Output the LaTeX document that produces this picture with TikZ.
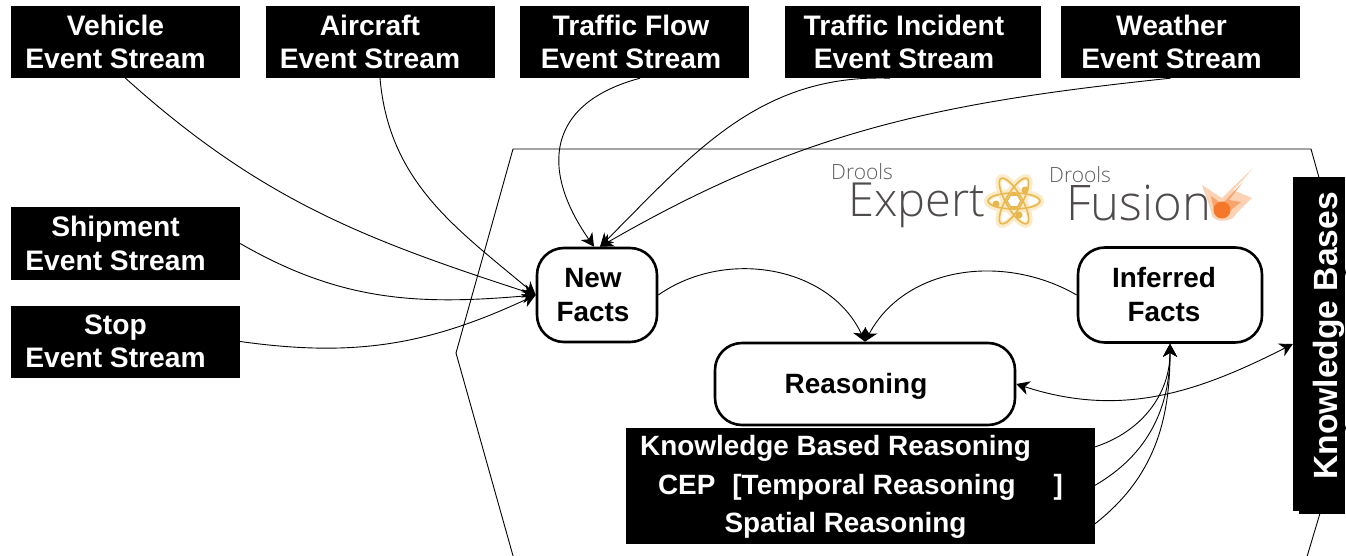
\documentclass[tikz,border=0pt]{standalone}
\usepackage{fontspec}
\setmainfont{Liberation Sans}
\newfontfamily\logofont{Open Sans Light}
\usepackage{tikz}
\usetikzlibrary{positioning, arrows.meta}

\definecolor{logogray}{HTML}{4F4B4B}
\definecolor{atomgold}{HTML}{E8B84F}
\definecolor{atomglow}{HTML}{FBEBC8}
\definecolor{flameglow}{HTML}{FBD3B4}
\definecolor{flamemid}{HTML}{F7A56C}
\definecolor{flamecore}{HTML}{F4772A}

\newcommand{\evlines}[3]{#2\hspace*{#1}\\#3\hspace*{#1}}

\tikzset{
    evbox/.style={fill=black, text=white, align=center, inner sep=0pt, minimum width=229pt, minimum height=72pt,
        font=\bfseries\fontsize{28.2}{33.5}\selectfont},
    reasonline/.style={fill=black, draw=black, line width=.4pt, text=white, inner sep=0pt, minimum width=468pt, minimum height=38.4pt,
        text height=20pt, text depth=3pt, font=\bfseries\fontsize{27.9}{30}\selectfont},
    factbox/.style={draw=black, line width=2.6pt, rounded corners=27pt, fill=white, align=center, inner sep=0pt,
        font=\bfseries\fontsize{27.9}{34}\selectfont},
    flow/.style={-{Stealth[length=13pt, width=14pt, inset=4pt]}, line width=.9pt},
    biflow/.style={{Stealth[length=13pt, width=14pt, inset=4pt]}-{Stealth[length=13pt, width=14pt, inset=4pt]}, line width=.9pt},
    logosmall/.style={inner sep=0pt, anchor=base west, text=logogray!90, font=\logofont\fontsize{21}{21}\selectfont},
    logobig/.style={inner sep=0pt, anchor=base west, text=logogray, font=\logofont\fontsize{47}{47}\selectfont},
}

\begin{document}
\begin{tikzpicture}[x=1pt, y=-1pt, node distance=98pt, on grid]
    \useasboundingbox (0,0) rectangle (1346,556);

    % ENGINE OUTLINE
    \begin{scope}
        \clip (0,0) rectangle (1346,556);
        \draw[line width=.9pt] (517,570) -- (456,353) -- (513,149) -- (1311,149) -- (1368,353) -- (1303,570);
    \end{scope}

    % EVENT STREAMS
    \node[evbox] (vehicle) at (125.5,42) {\evlines{20pt}{Vehicle}{Event Stream}};
    \node[evbox] (aircraft) [right=254.5pt of vehicle] {\evlines{20pt}{Aircraft}{Event Stream}};
    \node[evbox] (flow) [right=254pt of aircraft] {\evlines{6pt}{Traffic Flow}{Event Stream}};
    \node[evbox, minimum width=256pt] (incident) [right=279pt of flow] {\evlines{18pt}{Traffic Incident}{Event Stream}};
    \node[evbox, minimum width=239pt] (weather) [right=267.5pt of incident] {\evlines{18pt}{Weather}{Event Stream}};
    \node[evbox] (shipment) at (125.5,243.5) {\evlines{20pt}{Shipment}{Event Stream}};
    \node[evbox] (stop) [below=of shipment] {\evlines{20pt}{Stop}{Event Stream}};

    % FACTS
    \node[factbox, minimum width=120pt, minimum height=94pt] (newfacts) at (597,295) {\evlines{8pt}{New}{Facts}};
    \node[factbox, minimum width=184pt, minimum height=95pt] (inferred) [right=573pt of newfacts] {\evlines{12pt}{Inferred}{Facts}};
    \node[factbox, minimum width=300pt, minimum height=82pt, text height=18pt, text depth=0pt] (reasoning) at (865,384) {\hspace*{-18pt}Reasoning};

    % REASONING KINDS
    \node[reasonline] (knowledge) at (860.5,447) {Knowledge Based Reasoning\hspace*{50pt}};
    \node[reasonline] (cep) [below=38.5pt of knowledge] {CEP\hspace*{17pt}[Temporal Reasoning\hspace*{38pt}]};
    \node[reasonline] (spatial) [below=38.5pt of cep] {Spatial Reasoning\hspace*{30pt}};

    % KNOWLEDGE BASES
    \fill[black] (1299,505) rectangle (1345,514);
    \node[evbox, rotate=90, minimum width=334pt, minimum height=52pt, text height=36pt, text depth=0pt, font=\bfseries\fontsize{33.6}{36}\selectfont] (kb) at (1319,344) {\hspace*{16pt}Knowledge Bases};

    % DROOLS LOGOS
    \node[logosmall] (droolsexpert) at (831,180) {Drools};
    \node[logobig] (expert) at (848,217) {Expert};
    \node[logosmall] (droolsfusion) at (1049,183) {Drools};
    \node[logobig, font=\logofont\fontsize{49}{49}\selectfont] (fusion) at (1066,221) {Fusion};

    \foreach \ang in {0,60,120} {
        \draw[atomglow, line width=6pt, rotate around={\ang:(1014,201)}] (1014,201) ellipse (27 and 9);
    }
    \foreach \ang in {0,60,120} {
        \draw[atomgold, line width=1.6pt, rotate around={\ang:(1014,201)}] (1014,201) ellipse (26 and 8);
    }
    \draw[atomgold, line width=1.6pt] (1007,201) -- (1010.5,195) -- (1017.5,195) -- (1021,201) -- (1017.5,207) -- (1010.5,207) -- cycle;
    \fill[atomgold] (1025,190) circle (3.5) (1019,215) circle (3.5) (996,204) circle (3.5);

    \fill[flameglow] (1253,168) .. controls (1243,180) .. (1233,190) -- (1252,198) .. controls (1243,207) and (1237,212) .. (1233,218)
        .. controls (1226,222) and (1216,222) .. (1212,216) .. controls (1210,205) and (1205,195) .. (1202,185)
        .. controls (1210,190) and (1217,195) .. (1222,198) .. controls (1230,190) .. cycle;
    \fill[flamemid] (1243,182) -- (1229,200) -- (1241,202) -- (1230,211) -- (1214,211) -- (1211,196) -- (1222,204) -- cycle;
    \fill[flamecore] (1222,210) circle (8.5);

    % CONNECTIONS
    \path[flow]
        (vehicle.south) edge [out=-42, in=162] (newfacts.west)
        (aircraft.south) edge [out=-85, in=140] (newfacts.west)
        (shipment.east) edge [out=-30, in=185] (newfacts.west)
        (stop.east) edge [out=-8, in=205] (newfacts.west)
        ([xshift=6pt] flow.south) edge [out=195, in=125, looseness=1.4] ([xshift=-3pt] newfacts.north)
        ([xshift=-23pt] incident.south) edge [out=178, in=45] ([xshift=3pt] newfacts.north)
        ([xshift=-10pt] weather.south) edge [out=186, in=30] ([xshift=3pt] newfacts.north)
        (newfacts.east) edge [out=35, in=115] (reasoning.north)
        (inferred.west) edge [out=150, in=62] (reasoning.north)
        (knowledge.east) edge [out=18, in=-90] (inferred.south)
        (cep.east) edge [out=30, in=-90] (inferred.south)
        (spatial.east) edge [out=38, in=-90] (inferred.south);
    \draw[biflow] (reasoning.east) to [out=-18, in=207] (kb.north);
\end{tikzpicture}
\end{document}
